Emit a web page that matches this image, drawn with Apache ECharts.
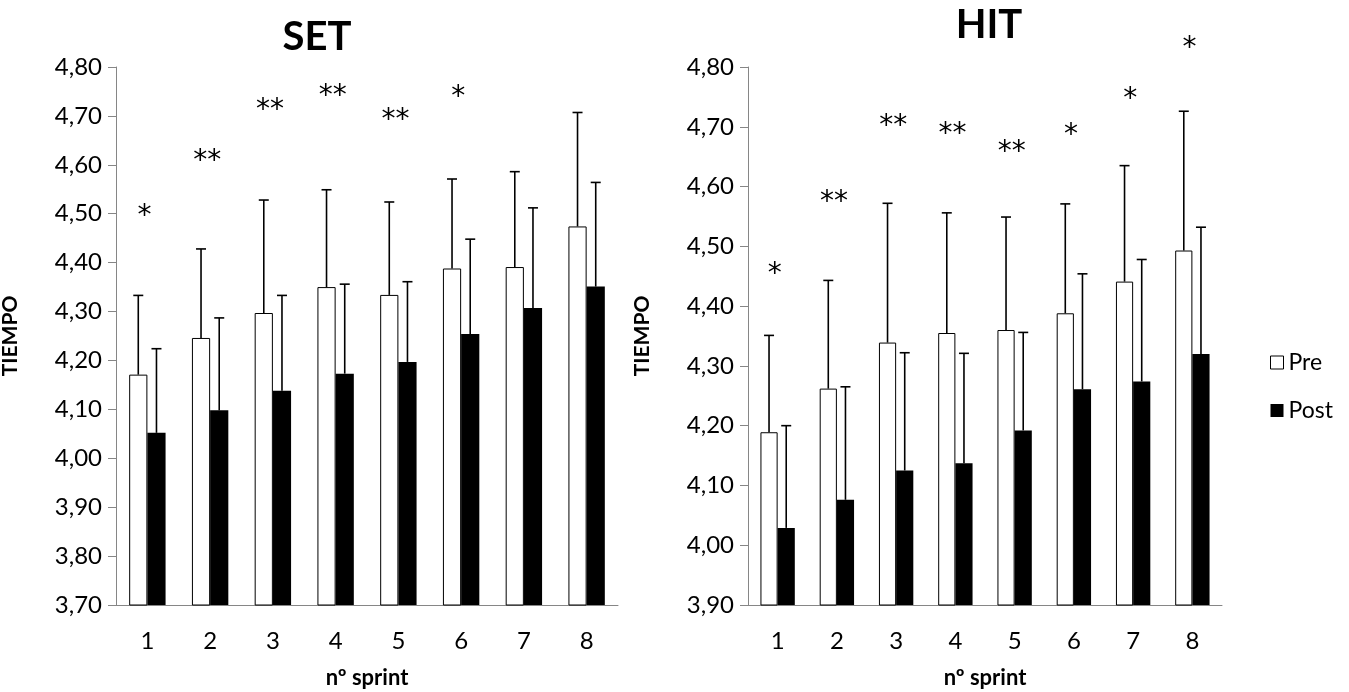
<!DOCTYPE html>
<html>
<head>
<meta charset="utf-8">
<script src="https://cdn.jsdelivr.net/npm/echarts@6/dist/echarts.min.js"></script>
<style>
html,body{margin:0;padding:0;background:#fff;}
#c{width:1349px;height:692px;}
</style>
</head>
<body>
<div id="c"></div>
<script>
// ---- data ----
const categories = ['1','2','3','4','5','6','7','8'];

const setPre    = [4.171, 4.246, 4.297, 4.350, 4.334, 4.388, 4.391, 4.474];
const setPreSD  = [0.162, 0.182, 0.231, 0.199, 0.190, 0.183, 0.195, 0.233];
const setPost   = [4.052, 4.098, 4.138, 4.173, 4.197, 4.254, 4.307, 4.351];
const setPostSD = [0.172, 0.189, 0.195, 0.183, 0.164, 0.194, 0.205, 0.213];
const setStars  = ['*', '**', '**', '**', '**', '*', '', ''];
const setStarY  = [4.509, 4.621, 4.725, 4.754, 4.704, 4.752, null, null];

const hitPre    = [4.189, 4.262, 4.339, 4.355, 4.360, 4.388, 4.441, 4.493];
const hitPreSD  = [0.162, 0.181, 0.233, 0.201, 0.189, 0.183, 0.194, 0.233];
const hitPost   = [4.029, 4.076, 4.125, 4.137, 4.192, 4.261, 4.274, 4.320];
const hitPostSD = [0.171, 0.189, 0.197, 0.184, 0.164, 0.193, 0.204, 0.212];
const hitStars  = ['*', '**', '**', '**', '**', '*', '*', '*'];
const hitStarY  = [4.465, 4.584, 4.712, 4.698, 4.669, 4.696, 4.757, 4.842];

const setYMin = 3.70, setYMax = 4.80;
const hitYMin = 3.90, hitYMax = 4.80;
const yStep = 0.10;

// ---- styling ----
const FONT = 'Lato';
const BAR_FRAC = 0.29;
const AXIS_GRAY = '#868686';

const chart = echarts.init(document.getElementById('c'), null, {renderer:'canvas'});

function errRender(sign){
  return function(params, api){
    const i = api.value(0), m = api.value(1), sd = api.value(2);
    const bw = api.size([1,0])[0];
    const w = bw * BAR_FRAC;
    const base = api.coord([i, m]);
    const x = base[0] + sign * w / 2;
    const top = api.coord([i, m + sd])[1];
    return {type:'group', children:[
      {type:'line', shape:{x1:x, y1:base[1], x2:x, y2:top}, style:{stroke:'#000', lineWidth:1.6}},
      {type:'line', shape:{x1:x-5, y1:top, x2:x+5, y2:top}, style:{stroke:'#000', lineWidth:1.6}}
    ]};
  };
}
function starRender(labels){
  return function(params, api){
    const p = api.coord([api.value(0), api.value(1)]);
    return {type:'text', x:p[0]-3, y:p[1]+7,
      style:{text: labels[api.value(0)], font:'28px "DejaVu Sans"', fill:'#000', align:'center', verticalAlign:'middle'}};
  };
}

function yAxisCfg(idx, min, max){
  return {
    type:'value', gridIndex:idx, min:min, max:max, interval:yStep,
    name:'TIEMPO', nameLocation:'middle', nameRotate:90, nameGap:95,
    nameTextStyle:{fontFamily:FONT, fontWeight:'bold', fontSize:21, color:'#000'},
    axisLine:{show:true, lineStyle:{color:AXIS_GRAY, width:1}},
    axisTick:{show:true, length:8, lineStyle:{color:AXIS_GRAY}},
    splitLine:{show:false},
    axisLabel:{fontFamily:FONT, fontSize:24, color:'#000', margin:14,
      formatter:v => v.toFixed(2).replace('.', ',')}
  };
}
function xAxisCfg(idx){
  return {
    type:'category', gridIndex:idx, data:categories,
    name:'nº sprint', nameLocation:'middle', nameGap:62,
    nameTextStyle:{fontFamily:FONT, fontWeight:'bold', fontSize:22, color:'#000'},
    axisLine:{show:true, lineStyle:{color:AXIS_GRAY, width:1}},
    axisTick:{show:false},
    axisLabel:{fontFamily:FONT, fontSize:24, color:'#000', margin:24}
  };
}
function mk(arr, sd){ return arr.map((v,i)=>[i, v, sd[i]]); }
function stars(ys){ return ys.map((v,i)=> v==null ? null : [i, v]).filter(d=>d); }

const option = {
  animation:false,
  backgroundColor:'#fff',
  title:[
    {text:'SET', left:312, top:12, textAlign:'center', textStyle:{fontFamily:FONT, fontWeight:'bold', fontSize:40, color:'#000'}},
    {text:'HIT', left:984, top:0, textAlign:'center', textStyle:{fontFamily:FONT, fontWeight:'bold', fontSize:40, color:'#000'}}
  ],
  legend:{
    data:[
      {name:'Pre', itemStyle:{color:'#fff', borderColor:'#000', borderWidth:1}},
      {name:'Post', itemStyle:{color:'#000'}}
    ],
    orient:'vertical', left:1265, top:346, itemWidth:13, itemHeight:13, itemGap:25, icon:'rect',
    textStyle:{fontFamily:FONT, fontSize:23, color:'#000'}
  },
  grid:[
    {left:116, right:731, top:67, bottom:87, outerBoundsMode:'none', containLabel:false},
    {left:748, right:127, top:67, bottom:87, outerBoundsMode:'none', containLabel:false}
  ],
  xAxis:[xAxisCfg(0), xAxisCfg(1)],
  yAxis:[yAxisCfg(0, setYMin, setYMax), yAxisCfg(1, hitYMin, hitYMax)],
  series:[
    {name:'Pre', type:'bar', xAxisIndex:0, yAxisIndex:0, data:setPre, barWidth:(BAR_FRAC*100)+'%', barGap:'0%',
      itemStyle:{color:'#fff', borderColor:'#000', borderWidth:1}},
    {name:'Post', type:'bar', xAxisIndex:0, yAxisIndex:0, data:setPost, barWidth:(BAR_FRAC*100)+'%', barGap:'0%',
      itemStyle:{color:'#000'}},
    {name:'Pre', type:'bar', xAxisIndex:1, yAxisIndex:1, data:hitPre, barWidth:(BAR_FRAC*100)+'%', barGap:'0%',
      itemStyle:{color:'#fff', borderColor:'#000', borderWidth:1}},
    {name:'Post', type:'bar', xAxisIndex:1, yAxisIndex:1, data:hitPost, barWidth:(BAR_FRAC*100)+'%', barGap:'0%',
      itemStyle:{color:'#000'}},
    {type:'custom', name:'errSetPre', xAxisIndex:0, yAxisIndex:0, renderItem:errRender(-1), data:mk(setPre,setPreSD), z:5},
    {type:'custom', name:'errSetPost', xAxisIndex:0, yAxisIndex:0, renderItem:errRender(1), data:mk(setPost,setPostSD), z:5},
    {type:'custom', name:'errHitPre', xAxisIndex:1, yAxisIndex:1, renderItem:errRender(-1), data:mk(hitPre,hitPreSD), z:5},
    {type:'custom', name:'errHitPost', xAxisIndex:1, yAxisIndex:1, renderItem:errRender(1), data:mk(hitPost,hitPostSD), z:5},
    {type:'custom', name:'starsSet', xAxisIndex:0, yAxisIndex:0, renderItem:starRender(setStars), data:stars(setStarY), clip:false, z:6},
    {type:'custom', name:'starsHit', xAxisIndex:1, yAxisIndex:1, renderItem:starRender(hitStars), data:stars(hitStarY), clip:false, z:6}
  ]
};
chart.setOption(option);
</script>
</body>
</html>
